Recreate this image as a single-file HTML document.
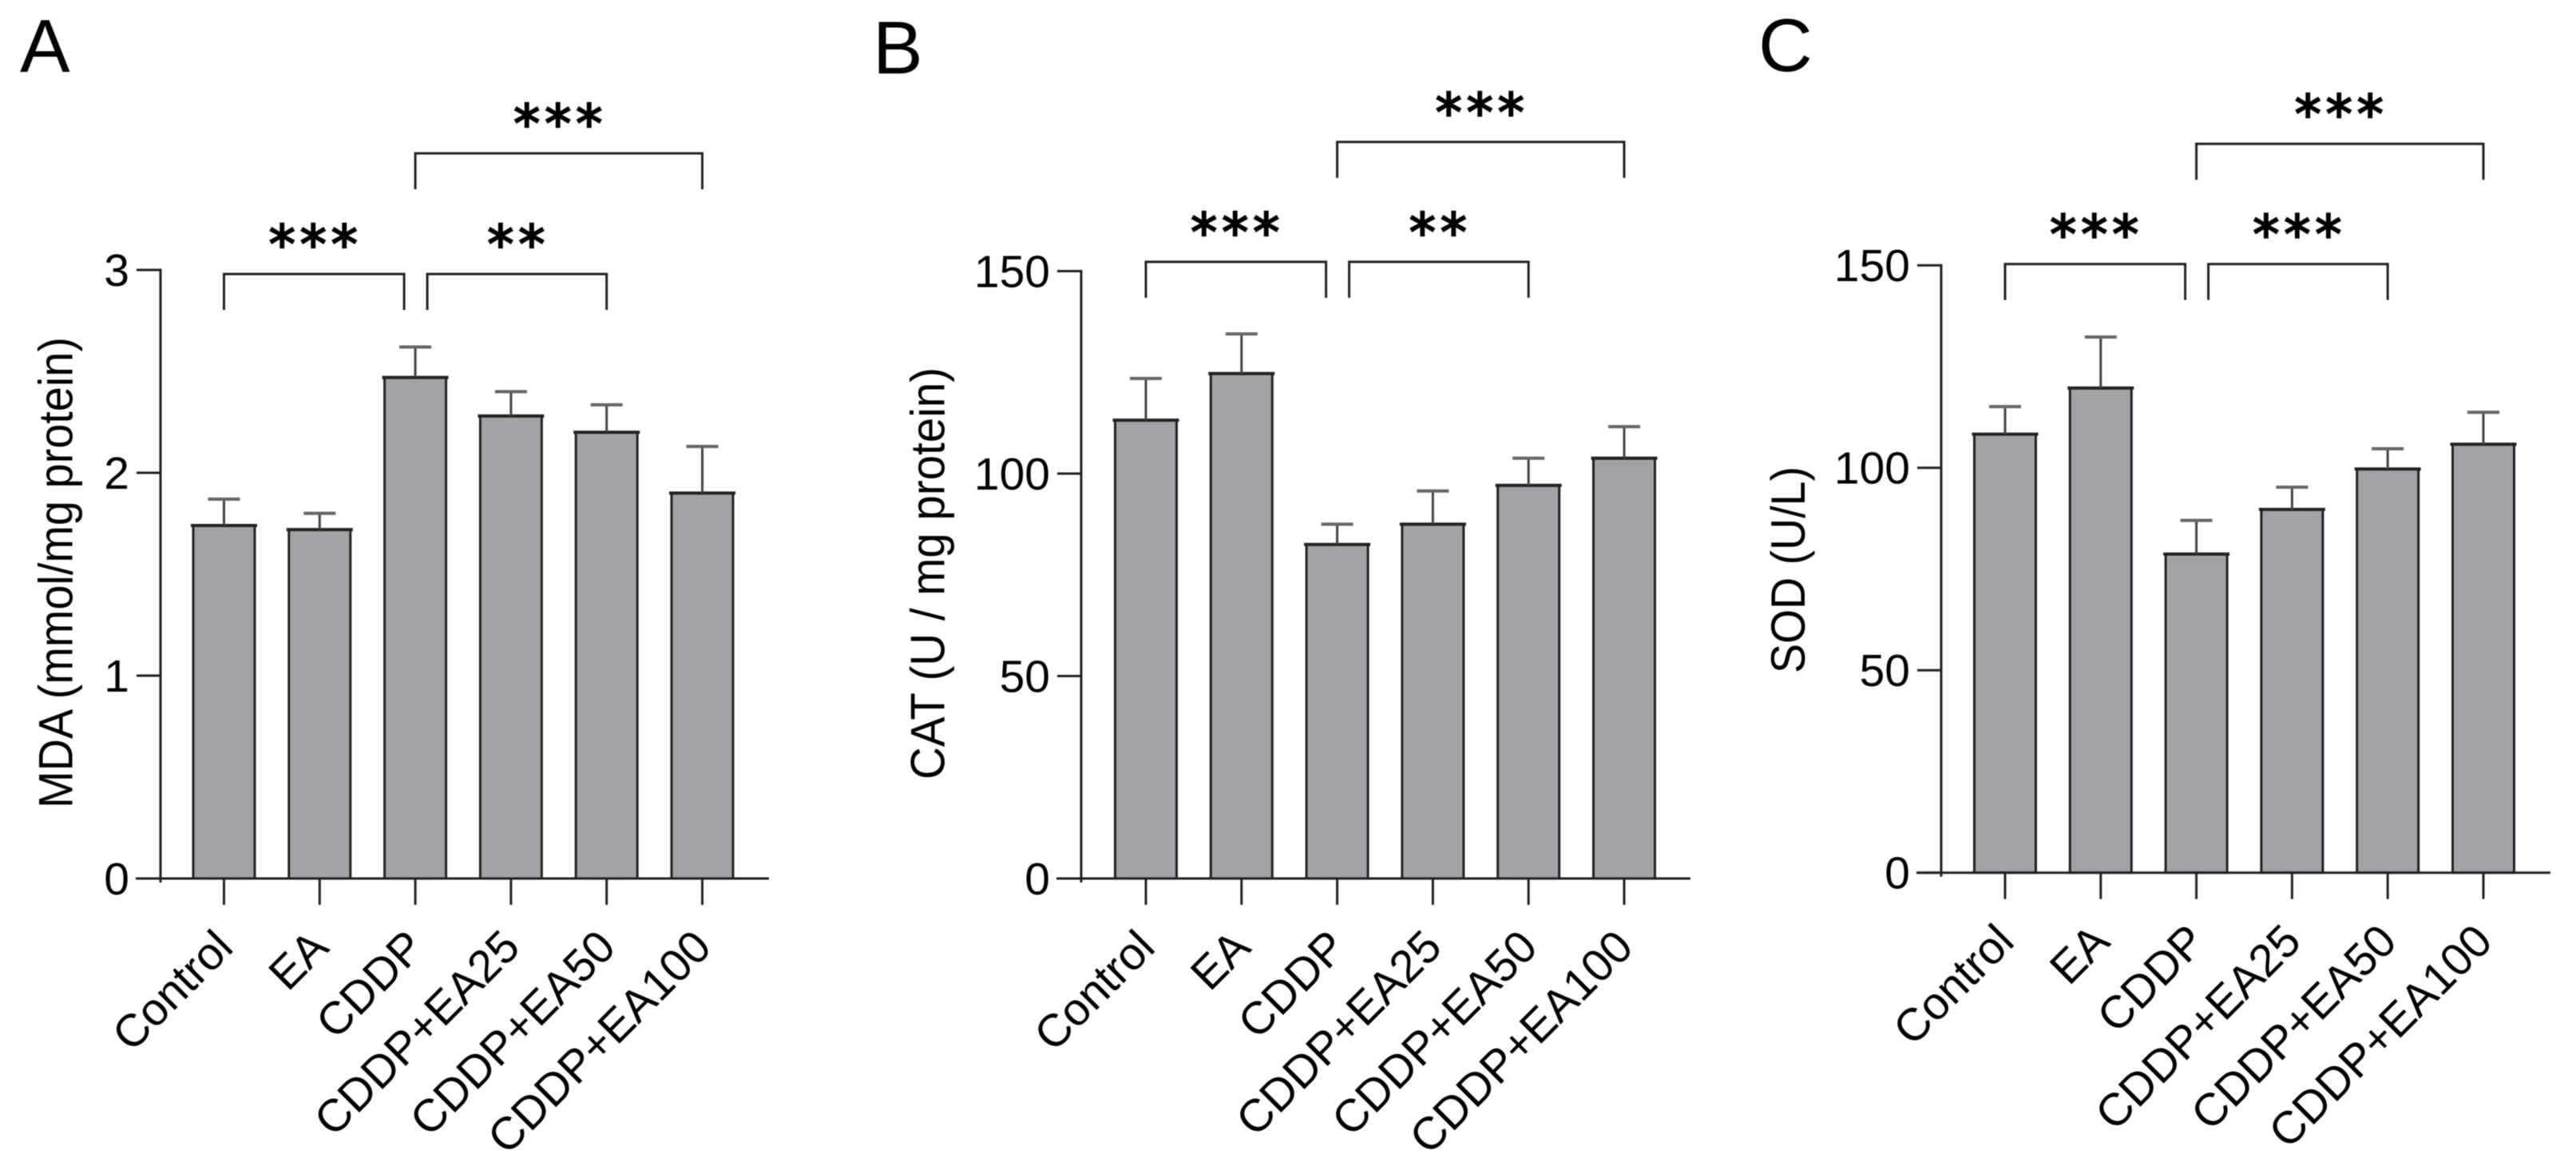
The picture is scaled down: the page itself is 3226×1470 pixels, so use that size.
<!DOCTYPE html>
<html lang="en">
<head>
<meta charset="utf-8">
<title>MDA, CAT and SOD bar charts</title>
<style>
html,body{margin:0;padding:0;background:#fff;}
body{width:3226px;height:1470px;overflow:hidden;}
svg{display:block;filter:blur(0.6px);}
text{font-family:"Liberation Sans",Arial,sans-serif;fill:#000;}
.panel-letter{font-size:94px;}
.y-title{font-size:60px;}
.tick-label{font-size:57px;text-anchor:end;}
.cat-label{font-size:57px;text-anchor:end;}
.stars{font-family:"DejaVu Sans",sans-serif;font-size:66px;letter-spacing:6px;text-anchor:middle;stroke:#000;stroke-width:2.2px;}
</style>
</head>
<body>
<svg id="figure" xmlns="http://www.w3.org/2000/svg" width="3226" height="1470" viewBox="0 0 3226 1470">
  <rect x="0" y="0" width="3226" height="1470" fill="#ffffff"/>
  <text class="panel-letter" x="25" y="90">A</text>
  <text class="panel-letter" x="1093" y="92">B</text>
  <text class="panel-letter" x="2202" y="89">C</text>
  <text class="y-title" transform="translate(90.5 1012) rotate(-90)" textLength="590" lengthAdjust="spacingAndGlyphs">MDA (mmol/mg protein)</text>
  <text class="y-title" transform="translate(1182.5 976) rotate(-90)" textLength="516" lengthAdjust="spacingAndGlyphs">CAT (U / mg protein)</text>
  <text class="y-title" transform="translate(2260 843) rotate(-90)" textLength="259" lengthAdjust="spacingAndGlyphs">SOD (U/L)</text>
  <g id="panel-a"></g>
  <g id="panel-b"></g>
  <g id="panel-c"></g>
</svg>
<script>
// Chart data
const categories = ['Control', 'EA', 'CDDP', 'CDDP+EA25', 'CDDP+EA50', 'CDDP+EA100'];

const mdaValues = [1.74, 1.72, 2.47, 2.28, 2.20, 1.90];
const mdaErrorTops = [1.87, 1.80, 2.62, 2.40, 2.335, 2.13];
const mdaTicks = [0, 1, 2, 3];
const mdaBrackets = [
  { from: 0, to: 2, level: 2.98, stars: '***' },
  { from: 2, to: 4, level: 2.98, stars: '**' },
  { from: 2, to: 5, level: 3.575, stars: '***' }
];

const catValues = [113.2, 124.7, 82.5, 87.5, 97.1, 103.8];
const catErrorTops = [123.5, 134.5, 87.5, 95.7, 103.8, 111.6];
const catTicks = [0, 50, 100, 150];
const catBrackets = [
  { from: 0, to: 2, level: 152.3, stars: '***' },
  { from: 2, to: 4, level: 152.3, stars: '**' },
  { from: 2, to: 5, level: 181.9, stars: '***' }
];

const sodValues = [108.3, 119.7, 78.7, 89.7, 99.7, 105.8];
const sodErrorTops = [115.1, 132.3, 87, 95.2, 104.7, 113.7];
const sodTicks = [0, 50, 100, 150];
const sodBrackets = [
  { from: 0, to: 2, level: 150.3, stars: '***' },
  { from: 2, to: 4, level: 150.3, stars: '***' },
  { from: 2, to: 5, level: 180, stars: '***' }
];

const SVG_NS = 'http://www.w3.org/2000/svg';
const INK = '#222222';
const BAR_FILL = '#a3a2a7';
const BAR_WIDTH = 77;
const CAP_HALF = 20;
const STEP = 119.8;

function svgEl(parent, tag, attrs) {
  const node = document.createElementNS(SVG_NS, tag);
  for (const key in attrs) node.setAttribute(key, attrs[key]);
  parent.appendChild(node);
  return node;
}

function drawPanel(id, values, errorTops, ticks, brackets, layout) {
  const g = document.getElementById(id);
  const maxTick = ticks[ticks.length - 1];
  const yScale = v => layout.y0 - (v / maxTick) * layout.plotHeight;
  const xScale = i => layout.x0 + i * STEP;

  // bars
  values.forEach((v, i) => {
    const x = xScale(i);
    const top = yScale(v);
    const bar = svgEl(g, 'rect', { x: x - BAR_WIDTH / 2, y: top, width: BAR_WIDTH, height: layout.y0 - top, fill: BAR_FILL, stroke: INK, 'stroke-width': 3 });
    
    
    const topEdge = svgEl(g, 'line', { x1: x - BAR_WIDTH / 2 - 3, x2: x + BAR_WIDTH / 2 + 3, y1: top, y2: top, stroke: INK, 'stroke-width': 4 });
    
    
  });

  // error bars
  errorTops.forEach((e, i) => {
    const x = xScale(i);
    const stem = svgEl(g, 'line', { x1: x, x2: x, y1: yScale(values[i]), y2: yScale(e), stroke: '#444444', 'stroke-width': 3 });
    
    
    const cap = svgEl(g, 'line', { x1: x - CAP_HALF, x2: x + CAP_HALF, y1: yScale(e), y2: yScale(e), stroke: '#666666', 'stroke-width': 4 });
    
    
  });

  // y axis
  const yAxis = svgEl(g, 'line', { x1: layout.axisX, x2: layout.axisX, y1: yScale(maxTick) - 1.5, y2: layout.y0 + 5, stroke: INK, 'stroke-width': 3 });
  
  
  ticks.forEach(t => {
    const y = yScale(t);
    const mark = svgEl(g, 'line', { x1: layout.axisX - 30, x2: layout.axisX, y1: y, y2: y, stroke: INK, 'stroke-width': 3 });
    
    
    const label = svgEl(g, 'text', { class: 'tick-label', x: layout.axisX - 39, y: y + 20 });
    label.textContent = t;
    
    
  });

  // x axis
  const xAxis = svgEl(g, 'line', { x1: layout.axisX - 31, x2: layout.axisEnd, y1: layout.y0, y2: layout.y0, stroke: INK, 'stroke-width': 3 });
  
  
  categories.forEach((c, i) => {
    const x = xScale(i);
    const mark = svgEl(g, 'line', { x1: x, x2: x, y1: layout.y0, y2: layout.y0 + 33, stroke: INK, 'stroke-width': 3 });
    
    
    const px = x + 14;
    const py = layout.y0 + 89;
    const label = svgEl(g, 'text', { class: 'cat-label', x: px, y: py, transform: 'rotate(-45 ' + px + ' ' + py + ')' });
    label.textContent = c;
    
    
  });

  // significance brackets
  brackets.forEach(b => {
    const adjacent = brackets.some(o => o !== b && o.level === b.level);
    const left = xScale(b.from) + (adjacent && b.from === 2 ? 15 : 0);
    const right = xScale(b.to) + (adjacent && b.to === 2 ? -14 : 0);
    const y = yScale(b.level);
    const drop = 45;
    const path = svgEl(g, 'path', { d: 'M' + left + ' ' + (y + drop) + 'V' + y + 'H' + right + 'V' + (y + drop), fill: 'none', stroke: INK, 'stroke-width': 3 });
    
    
    const stars = svgEl(g, 'text', { class: 'stars', x: (left + right) / 2 + 2, y: y - 14 });
    stars.textContent = b.stars;
    
    
  });
}

drawPanel('panel-a', mdaValues, mdaErrorTops, mdaTicks, mdaBrackets, { x0: 280.5, y0: 1100, plotHeight: 762, axisX: 201, axisEnd: 963 });
drawPanel('panel-b', catValues, catErrorTops, catTicks, catBrackets, { x0: 1435, y0: 1100, plotHeight: 760.5, axisX: 1354, axisEnd: 2117 });
drawPanel('panel-c', sodValues, sodErrorTops, sodTicks, sodBrackets, { x0: 2511, y0: 1092.7, plotHeight: 760.5, axisX: 2431, axisEnd: 3194 });
</script>
</body>
</html>
